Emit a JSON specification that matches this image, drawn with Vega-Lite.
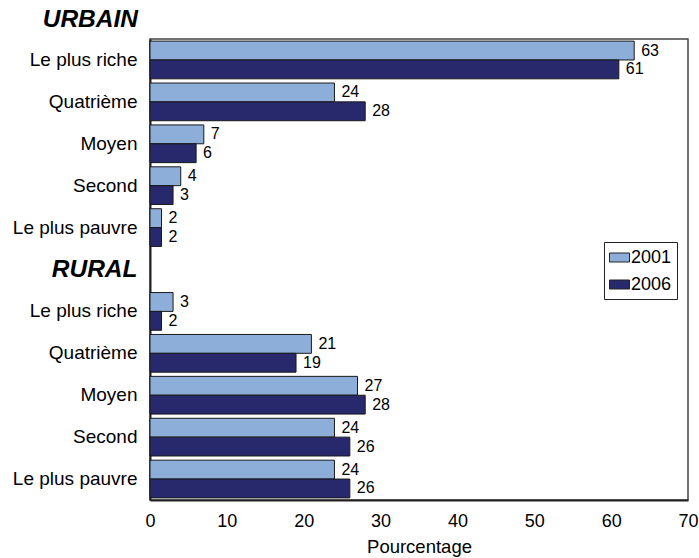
{
  "$schema": "https://vega.github.io/schema/vega-lite/v6.json",
  "autosize": "none",
  "width": 538,
  "height": 461,
  "padding": {"left": 150, "top": 39, "right": 11, "bottom": 58},
  "background": "white",
  "title": {
    "text": "URBAIN",
    "anchor": "start",
    "frame": "group",
    "align": "right",
    "dx": -12,
    "offset": 7,
    "font": "Liberation Sans",
    "fontSize": 24.5,
    "fontWeight": "bold",
    "fontStyle": "italic",
    "color": "black"
  },
  "config": {
    "view": {"stroke": "#444", "strokeWidth": 1.5},
    "font": "Liberation Sans"
  },
  "data": {
    "values": [
      {"row": "U1|Le plus riche", "year": "2001", "value": 63},
      {"row": "U1|Le plus riche", "year": "2006", "value": 61},
      {"row": "U2|Quatrième", "year": "2001", "value": 24},
      {"row": "U2|Quatrième", "year": "2006", "value": 28},
      {"row": "U3|Moyen", "year": "2001", "value": 7},
      {"row": "U3|Moyen", "year": "2006", "value": 6},
      {"row": "U4|Second", "year": "2001", "value": 4},
      {"row": "U4|Second", "year": "2006", "value": 3},
      {"row": "U5|Le plus pauvre", "year": "2001", "value": 1.5},
      {"row": "U5|Le plus pauvre", "year": "2006", "value": 1.5},
      {"row": "R1|Le plus riche", "year": "2001", "value": 3},
      {"row": "R1|Le plus riche", "year": "2006", "value": 1.5},
      {"row": "R2|Quatrième", "year": "2001", "value": 21},
      {"row": "R2|Quatrième", "year": "2006", "value": 19},
      {"row": "R3|Moyen", "year": "2001", "value": 27},
      {"row": "R3|Moyen", "year": "2006", "value": 28},
      {"row": "R4|Second", "year": "2001", "value": 24},
      {"row": "R4|Second", "year": "2006", "value": 26},
      {"row": "R5|Le plus pauvre", "year": "2001", "value": 24},
      {"row": "R5|Le plus pauvre", "year": "2006", "value": 26}
    ]
  },
  "encoding": {
    "y": {
      "field": "row",
      "type": "nominal",
      "scale": {
        "domain": ["U1|Le plus riche", "U2|Quatrième", "U3|Moyen", "U4|Second", "U5|Le plus pauvre", "R0|RURAL", "R1|Le plus riche", "R2|Quatrième", "R3|Moyen", "R4|Second", "R5|Le plus pauvre"],
        "paddingInner": 0.1,
        "paddingOuter": 0.05
      },
      "axis": {
        "title": null,
        "labelExpr": "split(datum.label, '|')[1]",
        "ticks": false,
        "labelPadding": 13,
        "labelFontSize": {"condition": {"test": "datum.value == 'R0|RURAL'", "value": 24.5}, "value": 19},
        "labelFontWeight": {"condition": {"test": "datum.value == 'R0|RURAL'", "value": "bold"}, "value": "normal"},
        "labelFontStyle": {"condition": {"test": "datum.value == 'R0|RURAL'", "value": "italic"}, "value": "normal"},
        "labelColor": "black",
        "domainColor": "#222",
        "domainWidth": 2
      }
    },
    "yOffset": {"field": "year", "type": "nominal", "sort": ["2001", "2006"]},
    "x": {
      "field": "value",
      "type": "quantitative",
      "scale": {"domain": [0, 70], "nice": false},
      "axis": {
        "title": "Pourcentage",
        "titleFontSize": 18.5,
        "titleFontWeight": "normal",
        "titleColor": "black",
        "titlePadding": 7,
        "values": [0, 10, 20, 30, 40, 50, 60, 70],
        "grid": false,
        "ticks": false,
        "labelPadding": 12,
        "labelFontSize": 18,
        "labelColor": "black",
        "domainColor": "#222",
        "domainWidth": 2,
        "labelFlush": false
      }
    }
  },
  "layer": [
    {
      "mark": {"type": "bar", "stroke": "#1a1a1a", "strokeWidth": 1},
      "encoding": {
        "color": {
          "field": "year",
          "type": "nominal",
          "scale": {"domain": ["2001", "2006"], "range": ["#8EAEDA", "#27296C"]},
          "legend": {
            "title": null,
            "orient": "none",
            "legendX": 454,
            "legendY": 203,
            "fillColor": "white",
            "strokeColor": "#222",
            "padding": 5,
            "labelFontSize": 18,
            "labelColor": "black",
            "labelOffset": 1,
            "rowPadding": 7,
            "symbolType": "M-1,-0.45H1V0.45H-1Z",
            "symbolSize": 400,
            "symbolStrokeColor": "#222",
            "symbolStrokeWidth": 1
          }
        }
      }
    },
    {
      "mark": {"type": "text", "align": "left", "baseline": "middle", "dx": 7, "fontSize": 16, "color": "black"},
      "encoding": {
        "text": {"field": "value", "type": "quantitative", "format": ".0f"}
      }
    }
  ]
}
